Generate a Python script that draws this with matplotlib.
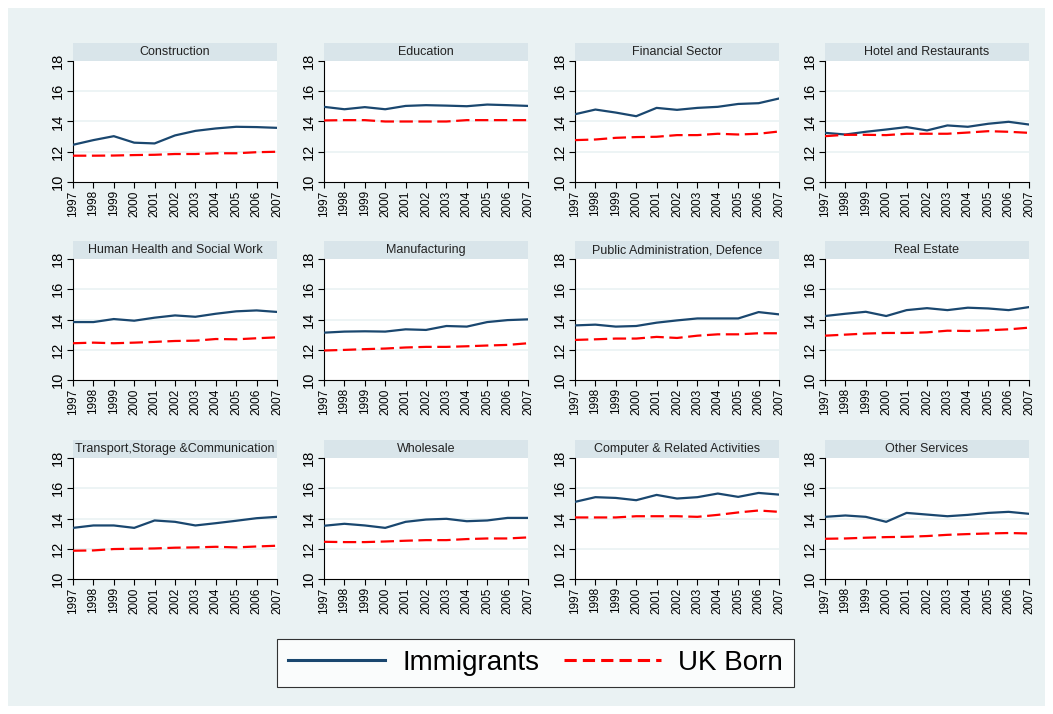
import numpy as np
import matplotlib.pyplot as plt
from matplotlib.patches import Rectangle
from matplotlib.lines import Line2D

plt.rcParams['font.family'] = ['Liberation Sans', 'DejaVu Sans']

years = list(range(1997, 2008))

sectors = ["Construction", "Education", "Financial Sector", "Hotel and Restaurants",
           "Human Health and Social Work", "Manufacturing", "Public Administration, Defence", "Real Estate",
           "Transport,Storage &Communication", "Wholesale", "Computer & Related Activities", "Other Services"]

# mean log earnings
immigrants = [
    [12.46, 12.77, 13.03, 12.60, 12.55, 13.08, 13.38, 13.54, 13.65, 13.63, 13.58],
    [14.97, 14.81, 14.95, 14.81, 15.03, 15.08, 15.05, 15.01, 15.12, 15.08, 15.03],
    [14.48, 14.79, 14.59, 14.35, 14.90, 14.77, 14.90, 14.97, 15.16, 15.21, 15.52],
    [13.25, 13.14, 13.32, 13.47, 13.63, 13.41, 13.74, 13.65, 13.85, 13.98, 13.80],
    [13.83, 13.83, 14.03, 13.92, 14.12, 14.27, 14.18, 14.38, 14.54, 14.60, 14.50],
    [13.13, 13.20, 13.22, 13.20, 13.35, 13.31, 13.57, 13.53, 13.83, 13.96, 14.01],
    [13.61, 13.66, 13.53, 13.57, 13.79, 13.94, 14.07, 14.07, 14.07, 14.49, 14.34],
    [14.23, 14.38, 14.51, 14.23, 14.62, 14.75, 14.62, 14.78, 14.73, 14.62, 14.82],
    [13.38, 13.54, 13.54, 13.38, 13.87, 13.78, 13.54, 13.69, 13.85, 14.02, 14.11],
    [13.52, 13.65, 13.54, 13.38, 13.78, 13.93, 13.98, 13.82, 13.87, 14.04, 14.04],
    [15.10, 15.41, 15.36, 15.21, 15.56, 15.32, 15.41, 15.65, 15.43, 15.69, 15.58],
    [14.11, 14.20, 14.11, 13.78, 14.37, 14.26, 14.15, 14.24, 14.37, 14.44, 14.31],
]

uk_born = [
    [11.74, 11.74, 11.75, 11.78, 11.80, 11.85, 11.85, 11.90, 11.90, 11.97, 12.00],
    [14.07, 14.09, 14.09, 14.00, 14.00, 14.00, 14.00, 14.09, 14.09, 14.09, 14.09],
    [12.77, 12.81, 12.92, 12.97, 12.99, 13.10, 13.10, 13.19, 13.14, 13.19, 13.34],
    [13.03, 13.12, 13.12, 13.10, 13.19, 13.19, 13.19, 13.27, 13.36, 13.32, 13.25],
    [12.43, 12.47, 12.43, 12.47, 12.52, 12.58, 12.60, 12.71, 12.69, 12.76, 12.82],
    [11.95, 11.99, 12.04, 12.08, 12.15, 12.19, 12.19, 12.23, 12.28, 12.32, 12.43],
    [12.65, 12.69, 12.74, 12.74, 12.85, 12.78, 12.93, 13.02, 13.02, 13.09, 13.09],
    [12.93, 13.00, 13.07, 13.11, 13.11, 13.15, 13.26, 13.24, 13.29, 13.35, 13.46],
    [11.87, 11.89, 11.98, 12.00, 12.02, 12.07, 12.09, 12.13, 12.09, 12.15, 12.20],
    [12.46, 12.44, 12.44, 12.48, 12.53, 12.57, 12.57, 12.64, 12.68, 12.68, 12.75],
    [14.07, 14.07, 14.07, 14.15, 14.15, 14.15, 14.11, 14.24, 14.40, 14.53, 14.44],
    [12.66, 12.68, 12.73, 12.77, 12.79, 12.84, 12.92, 12.97, 13.01, 13.04, 13.01],
]

W, H = 1053, 714
bg = '#EAF2F3'
header_col = '#D9E5EA'
navy = '#1A476F'
red = '#FF0000'

fig = plt.figure(figsize=(W / 100, H / 100), dpi=100)
fig.patch.set_facecolor('white')
fig.patches.append(Rectangle((8 / W, 8 / H), 1037 / W, 698 / H, transform=fig.transFigure,
                             facecolor=bg, edgecolor='none', zorder=-10))

col_left = [73, 324, 575, 825]
row_top = [61, 259, 458]
pw, ph, hh = 204, 121, 18

for k, name in enumerate(sectors):
    r, c = divmod(k, 4)
    ax = fig.add_axes([col_left[c] / W, 1 - (row_top[r] + ph) / H, pw / W, ph / H])
    ax.set_facecolor('white')
    ax.plot(years, immigrants[k], color=navy, lw=1.6, zorder=3)
    ax.plot(years, uk_born[k], color=red, lw=1.6, dashes=(6, 2.5), zorder=3)
    ax.set_xlim(1997, 2007)
    ax.set_ylim(10, 18)
    ax.set_yticks([10, 12, 14, 16, 18])
    ax.set_xticks(years)
    ax.set_xticklabels([str(y) for y in years], rotation=90, fontsize=8.5)
    ax.set_yticklabels(['10', '12', '14', '16', '18'], rotation=90, va='center', fontsize=10.5)
    for y in [12, 14, 16]:
        ax.axhline(y, color=bg, lw=1.2, zorder=1)
    for s in ['top', 'right']:
        ax.spines[s].set_visible(False)
    ax.spines['left'].set_linewidth(0.8)
    ax.spines['bottom'].set_linewidth(0.8)
    ax.tick_params(length=4, width=0.8, pad=2)
    # strip header
    ax.add_patch(Rectangle((0, 1), 1, hh / ph, transform=ax.transAxes, facecolor=header_col,
                           edgecolor='none', clip_on=False))
    ax.text(0.5, 1 + hh / ph / 2, name, transform=ax.transAxes, ha='center', va='center',
            fontsize=9, color='#222222')

handles = [Line2D([], [], color=navy, lw=2.2),
           Line2D([], [], color=red, lw=2.2, dashes=(4, 2))]
leg = fig.legend(handles, ['Immigrants', 'UK Born'], loc='center', ncol=2,
                 bbox_to_anchor=(535.5 / W, 1 - 663 / H), fontsize=20, frameon=True,
                 fancybox=False, edgecolor='black', handlelength=3.5, columnspacing=0.9,
                 handletextpad=0.6, borderpad=0.4, borderaxespad=0)
leg.get_frame().set_linewidth(0.8)
leg.get_frame().set_facecolor('white')

fig.savefig('out.png', dpi=100, facecolor=fig.get_facecolor())
